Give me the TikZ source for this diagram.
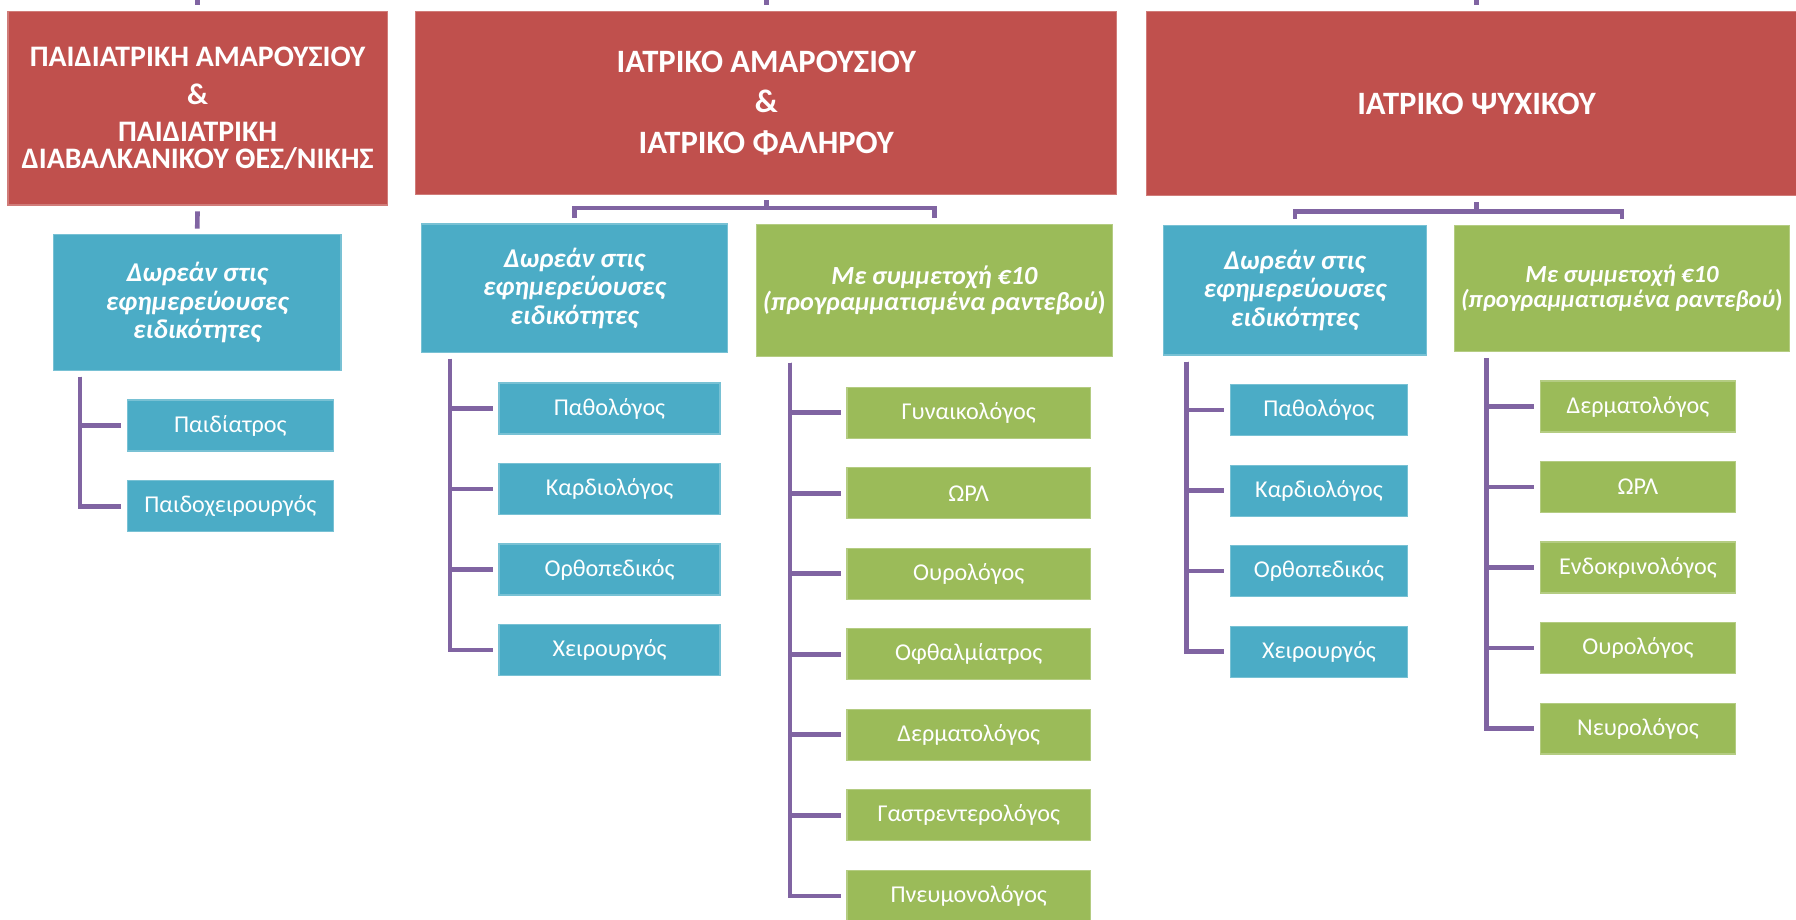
\documentclass[tikz,border=0pt]{standalone}
\usepackage{fontspec}
\setmainfont{Carlito}
\usetikzlibrary{positioning,calc}

\definecolor{hospred}{HTML}{C0504D}
\definecolor{freeblue}{HTML}{4BACC6}
\definecolor{paidgreen}{HTML}{9BBB59}
\definecolor{linkpurple}{HTML}{8064A2}

\begin{document}
\begin{tikzpicture}[
    hosp/.style={fill=hospred, draw=hospred!75!white, line width=0.6pt, text=white, align=center, inner sep=0pt},
    group/.style={fill=#1, draw=#1!75!white, line width=0.6pt, text=white, align=center, inner sep=0pt},
    spec/.style={fill=#1, draw=#1!75!white, line width=0.6pt, text=white, inner sep=0pt,
        minimum height=0.89cm, font=\fontsize{12}{14}\selectfont},
    link/.style={draw=linkpurple, line width=2.3pt},
    groupfont/.style={font=\bfseries\itshape\fontsize{13.5}{14}\selectfont}
]

    %\draw[step=1,help lines] (0,-17) grid (32, 1);
    \useasboundingbox (0,0) rectangle (31.36,-16.06);

    \node[hosp, minimum width=6.62cm, minimum height=3.38cm, font=\bfseries\fontsize{14.8}{13.4}\selectfont] (top_1) at (3.45,-1.89)
        {ΠΑΙΔΙΑΤΡΙΚΗ ΑΜΑΡΟΥΣΙΟΥ\\[5.6pt] \&\\[4.8pt] ΠΑΙΔΙΑΤΡΙΚΗ\\ ΔΙΑΒΑΛΚΑΝΙΚΟΥ ΘΕΣ/ΝΙΚΗΣ};
    \node[hosp, minimum width=12.24cm, minimum height=3.19cm, font=\bfseries\fontsize{16.2}{20.2}\selectfont] (top_2) at (13.38,-1.795)
        {ΙΑΤΡΙΚΟ ΑΜΑΡΟΥΣΙΟΥ\\ \&\\ ΙΑΤΡΙΚΟ ΦΑΛΗΡΟΥ};
    \node[hosp, minimum width=11.52cm, minimum height=3.22cm, font=\bfseries\fontsize{16.2}{20.2}\selectfont] (top_3) at (25.78,-1.81)
        {ΙΑΤΡΙΚΟ ΨΥΧΙΚΟΥ};

    \coordinate (up_1) at (3.45,0.5);
    \coordinate (up_2) at (13.38,0.5);
    \coordinate (up_3) at (25.78,0.5);
    \draw[link, shorten >=0.1cm] (up_1) -- (top_1.north);
    \draw[link, shorten >=0.1cm] (up_2) -- (top_2.north);
    \draw[link, shorten >=0.1cm] (up_3) -- (top_3.north);

    \node[group=freeblue, groupfont, minimum width=5.02cm, minimum height=2.38cm] (free_1) at (3.443,-5.282)
        {Δωρεάν στις\\ εφημερεύουσες\\ ειδικότητες};
    \node[group=freeblue, groupfont, minimum width=5.34cm, minimum height=2.25cm] (free_2) at (10.03,-5.036)
        {Δωρεάν στις\\ εφημερεύουσες\\ ειδικότητες};
    \node[group=paidgreen, minimum width=6.21cm, minimum height=2.30cm, font=\bfseries\itshape\fontsize{13}{13.3}\selectfont] (paid_2) at (16.315,-5.07)
        {Με συμμετοχή €10\\ (προγραμματισμένα ραντεβού{\upshape )}};
    \node[group=freeblue, groupfont, minimum width=4.60cm, minimum height=2.26cm] (free_3) at (22.609,-5.07)
        {Δωρεάν στις\\ εφημερεύουσες\\ ειδικότητες};
    \node[group=paidgreen, minimum width=5.84cm, minimum height=2.20cm, font=\bfseries\itshape\fontsize{12.2}{12.5}\selectfont] (paid_3) at (28.32,-5.04)
        {Με συμμετοχή €10\\ (προγραμματισμένα ραντεβού{\upshape )}};

    \draw[link, shorten <=0.1cm, shorten >=0.09cm] (top_1.south) -- (free_1.north);

    \coordinate (hub_2) at (13.38,-3.634);
    \draw[link, shorten <=0.1cm] (top_2.south) -- (hub_2);
    \draw[link, shorten >=0.1cm] (hub_2) -| (free_2.north);
    \draw[link, shorten >=0.1cm] (hub_2) -| (paid_2.north);

    \coordinate (hub_3) at (25.78,-3.696);
    \draw[link, shorten <=0.1cm] (top_3.south) -- (hub_3);
    \draw[link, shorten >=0.1cm] (hub_3) -| (free_3.north);
    \draw[link, shorten >=0.1cm] (hub_3) -| (paid_3.north);

    % column 1
    \node[spec=freeblue, minimum width=3.596cm] (free_1_a) at (4.022,-7.43) {Παιδίατρος};
    \node[spec=freeblue, minimum width=3.596cm] (free_1_b) at (4.022,-8.84) {Παιδοχειρουργός};

    \coordinate (rail_1) at (1.396,-6.576);
    \draw[link, shorten >=0.1cm] (rail_1) |- (free_1_a.west);
    \draw[link, shorten >=0.1cm] (rail_1) |- (free_1_b.west);

    % column 2
    \node[spec=freeblue, minimum width=3.858cm] (free_2_a) at (10.643,-7.132) {Παθολόγος};
    \node[spec=freeblue, minimum width=3.858cm] (free_2_b) at (10.643,-8.538) {Καρδιολόγος};
    \node[spec=freeblue, minimum width=3.858cm] (free_2_c) at (10.643,-9.944) {Ορθοπεδικός};
    \node[spec=freeblue, minimum width=3.858cm] (free_2_d) at (10.643,-11.35) {Χειρουργός};

    \coordinate (rail_2) at (7.86,-6.268);
    \draw[link, shorten >=0.1cm] (rail_2) |- (free_2_a.west);
    \draw[link, shorten >=0.1cm] (rail_2) |- (free_2_b.west);
    \draw[link, shorten >=0.1cm] (rail_2) |- (free_2_c.west);
    \draw[link, shorten >=0.1cm] (rail_2) |- (free_2_d.west);

    \node[spec=paidgreen, minimum width=4.25cm] (paid_2_a) at (16.915,-7.206) {Γυναικολόγος};
    \node[spec=paidgreen, minimum width=4.25cm] (paid_2_b) at (16.915,-8.612) {ΩΡΛ};
    \node[spec=paidgreen, minimum width=4.25cm] (paid_2_c) at (16.915,-10.018) {Ουρολόγος};
    \node[spec=paidgreen, minimum width=4.25cm] (paid_2_d) at (16.915,-11.424) {Οφθαλμίατρος};
    \node[spec=paidgreen, minimum width=4.25cm] (paid_2_e) at (16.915,-12.83) {Δερματολόγος};
    \node[spec=paidgreen, minimum width=4.25cm] (paid_2_f) at (16.915,-14.236) {Γαστρεντερολόγος};
    \node[spec=paidgreen, minimum width=4.25cm] (paid_2_g) at (16.915,-15.642) {Πνευμονολόγος};

    \coordinate (rail_2p) at (13.794,-6.334);
    \draw[link, shorten >=0.1cm] (rail_2p) |- (paid_2_a.west);
    \draw[link, shorten >=0.1cm] (rail_2p) |- (paid_2_b.west);
    \draw[link, shorten >=0.1cm] (rail_2p) |- (paid_2_c.west);
    \draw[link, shorten >=0.1cm] (rail_2p) |- (paid_2_d.west);
    \draw[link, shorten >=0.1cm] (rail_2p) |- (paid_2_e.west);
    \draw[link, shorten >=0.1cm] (rail_2p) |- (paid_2_f.west);
    \draw[link, shorten >=0.1cm] (rail_2p) |- (paid_2_g.west);

    % column 3
    \node[spec=freeblue, minimum width=3.10cm] (free_3_a) at (23.03,-7.161) {Παθολόγος};
    \node[spec=freeblue, minimum width=3.10cm] (free_3_b) at (23.03,-8.567) {Καρδιολόγος};
    \node[spec=freeblue, minimum width=3.10cm] (free_3_c) at (23.03,-9.973) {Ορθοπεδικός};
    \node[spec=freeblue, minimum width=3.10cm] (free_3_d) at (23.03,-11.379) {Χειρουργός};

    \coordinate (rail_3) at (20.72,-6.316);
    \draw[link, shorten >=0.1cm] (rail_3) |- (free_3_a.west);
    \draw[link, shorten >=0.1cm] (rail_3) |- (free_3_b.west);
    \draw[link, shorten >=0.1cm] (rail_3) |- (free_3_c.west);
    \draw[link, shorten >=0.1cm] (rail_3) |- (free_3_d.west);

    \node[spec=paidgreen, minimum width=3.40cm] (paid_3_a) at (28.6,-7.098) {Δερματολόγος};
    \node[spec=paidgreen, minimum width=3.40cm] (paid_3_b) at (28.6,-8.504) {ΩΡΛ};
    \node[spec=paidgreen, minimum width=3.40cm] (paid_3_c) at (28.6,-9.91) {Ενδοκρινολόγος};
    \node[spec=paidgreen, minimum width=3.40cm] (paid_3_d) at (28.6,-11.316) {Ουρολόγος};
    \node[spec=paidgreen, minimum width=3.40cm] (paid_3_e) at (28.6,-12.722) {Νευρολόγος};

    \coordinate (rail_3p) at (25.96,-6.252);
    \draw[link, shorten >=0.1cm] (rail_3p) |- (paid_3_a.west);
    \draw[link, shorten >=0.1cm] (rail_3p) |- (paid_3_b.west);
    \draw[link, shorten >=0.1cm] (rail_3p) |- (paid_3_c.west);
    \draw[link, shorten >=0.1cm] (rail_3p) |- (paid_3_d.west);
    \draw[link, shorten >=0.1cm] (rail_3p) |- (paid_3_e.west);

\end{tikzpicture}
\end{document}
